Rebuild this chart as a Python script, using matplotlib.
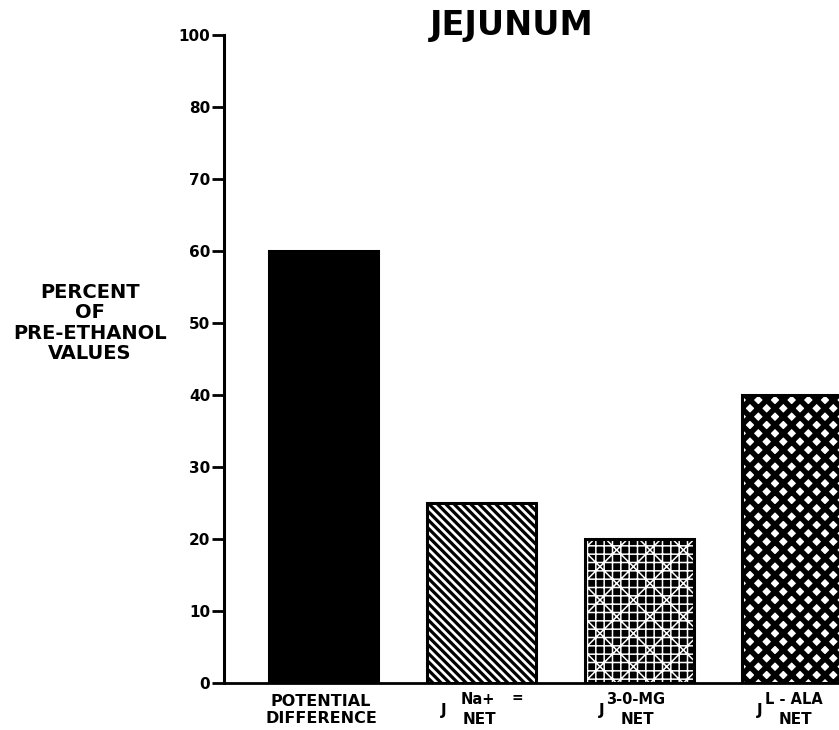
import matplotlib
matplotlib.use("Agg")
import matplotlib.pyplot as plt

# ---- data ----
TITLE = "JEJUNUM"
Y_LABEL = "PERCENT\nOF\nPRE-ETHANOL\nVALUES"
VALUES = [60, 25, 20, 40]
LABEL_MAIN = ["POTENTIAL\nDIFFERENCE", "Na+", "3-0-MG", "L - ALA"]
LABEL_PREFIX = ["", "J", "J", "J"]
LABEL_SUFFIX = ["", "NET", "NET", "NET"]
TICK_VALUES = [0, 10, 20, 30, 40, 50, 60, 70, 80, 90]
TICK_LABELS = ["0", "10", "20", "30", "40", "50", "60", "70", "80", "100"]

FONT = ["DejaVu Sans"]
plt.rcParams["font.family"] = FONT

fig = plt.figure(figsize=(8.39, 7.30), dpi=100)
W, H = 839, 730
ax_left, ax_right, ax_bottom, ax_top = 224, 839, 683, 35
ax = fig.add_axes([ax_left / W, 1 - ax_bottom / H, (ax_right - ax_left) / W, (ax_bottom - ax_top) / H])

x = list(range(len(VALUES)))
width = 0.69
EDGE_LW = 2.2

def set_hlw(patches, lw):
    for p in patches:
        if hasattr(p, "set_hatch_linewidth"):
            p.set_hatch_linewidth(lw)

# bar 1: solid black
ax.bar(x[0], VALUES[0], width, color="black", edgecolor="black", linewidth=EDGE_LW, zorder=2)

# bar 2: dense diagonal lines
with plt.rc_context({"hatch.linewidth": 2.3}):
    b = ax.bar(x[1], VALUES[1], width, color="white", edgecolor="black",
               hatch="\\\\\\\\", linewidth=EDGE_LW, zorder=2)
set_hlw(b, 2.3)

# bar 3: black with white texture
with plt.rc_context({"hatch.linewidth": 1.1}):
    b = ax.bar(x[2], VALUES[2], width, color="black", edgecolor="white",
               hatch="++x", linewidth=0, zorder=2)
set_hlw(b, 1.1)
ax.bar(x[2], VALUES[2], width, fill=False, edgecolor="black", linewidth=EDGE_LW, zorder=3)

# bar 4: crosshatch with white diamonds
with plt.rc_context({"hatch.linewidth": 4.0}):
    b = ax.bar(x[3], VALUES[3], width, color="white", edgecolor="black",
               hatch="xx", linewidth=EDGE_LW, zorder=2)
set_hlw(b, 4.0)

ax.set_xlim(-0.627, 3.266)
ax.set_ylim(0, 90)
ax.set_yticks(TICK_VALUES)
ax.set_yticklabels(TICK_LABELS, fontsize=11, fontweight="bold")
ax.tick_params(axis="y", direction="out", length=9, width=2, pad=1)
ax.set_xticks([])
for s in ["top", "right"]:
    ax.spines[s].set_visible(False)
ax.spines["left"].set_linewidth(2.2)
ax.spines["bottom"].set_linewidth(2.0)

# title
fig.text(512 / W, 1 - 25 / H, TITLE, fontsize=24, fontweight="bold", ha="center", va="center")
# y label
fig.text(90 / W, 1 - 323 / H, Y_LABEL, fontsize=14, fontweight="bold",
         ha="center", va="center", linespacing=1.08, multialignment="center")

# x labels
PX = 0.72
for i in range(len(VALUES)):
    xy = (x[i], 0)
    if LABEL_PREFIX[i] == "":
        ax.annotate(LABEL_MAIN[i], xy=xy, xycoords=("data", "axes fraction"),
                    xytext=(-2 * PX, -27 * PX), textcoords="offset points",
                    ha="center", va="center", fontsize=11.5, fontweight="bold",
                    linespacing=1.15, annotation_clip=False)
    else:
        ax.annotate(LABEL_PREFIX[i], xy=xy, xycoords=("data", "axes fraction"),
                    xytext=(-37 * PX, -28 * PX), textcoords="offset points",
                    ha="center", va="center", fontsize=11, fontweight="bold",
                    annotation_clip=False)
        ax.annotate(LABEL_MAIN[i], xy=xy, xycoords=("data", "axes fraction"),
                    xytext=(-3 * PX, -16 * PX), textcoords="offset points",
                    ha="center", va="center", fontsize=10.5, fontweight="bold",
                    annotation_clip=False)
        ax.annotate(LABEL_SUFFIX[i], xy=xy, xycoords=("data", "axes fraction"),
                    xytext=(-2 * PX, -37 * PX), textcoords="offset points",
                    ha="center", va="center", fontsize=11, fontweight="bold",
                    annotation_clip=False)

ax.annotate("=", xy=(x[1], 0), xycoords=("data", "axes fraction"),
            xytext=(36 * PX, -15 * PX), textcoords="offset points",
            ha="center", va="center", fontsize=10, fontweight="bold",
            annotation_clip=False)

fig.savefig("out.png", dpi=100, facecolor="white")
